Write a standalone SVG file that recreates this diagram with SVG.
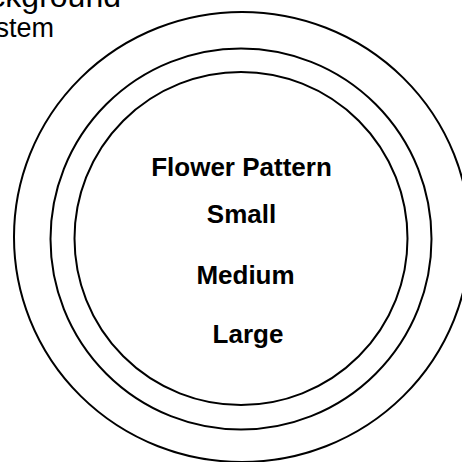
<svg xmlns="http://www.w3.org/2000/svg" width="462" height="462" viewBox="0 0 462 462">
<style>
.ring{fill:none;stroke:#000;stroke-width:2}
.lbl{font-family:"Liberation Sans",Arial,sans-serif;font-size:26px;font-weight:bold;fill:#000;text-anchor:middle}
.out{font-family:"Liberation Sans",Arial,sans-serif;fill:#000;text-anchor:end}
</style>
<rect width="462" height="462" fill="#fff"/>
<g id="outer-ring">
<ellipse class="ring" cx="242" cy="237" rx="228" ry="225"/>
<text class="out" x="121" y="7" font-size="32">Background</text>
<text class="out" x="54" y="37" font-size="27">System</text>
</g>
<g id="middle-ring">
<circle class="ring" cx="241" cy="239" r="190.5"/>
</g>
<g id="inner-ring">
<circle class="ring" cx="241" cy="238.5" r="166.5"/>
<text class="lbl" x="241.5" y="176">Flower Pattern</text>
<text class="lbl" x="241.5" y="223">Small</text>
<text class="lbl" x="245.5" y="284">Medium</text>
<text class="lbl" x="248" y="343">Large</text>
</g>
<g id="connectors"></g>
</svg>
